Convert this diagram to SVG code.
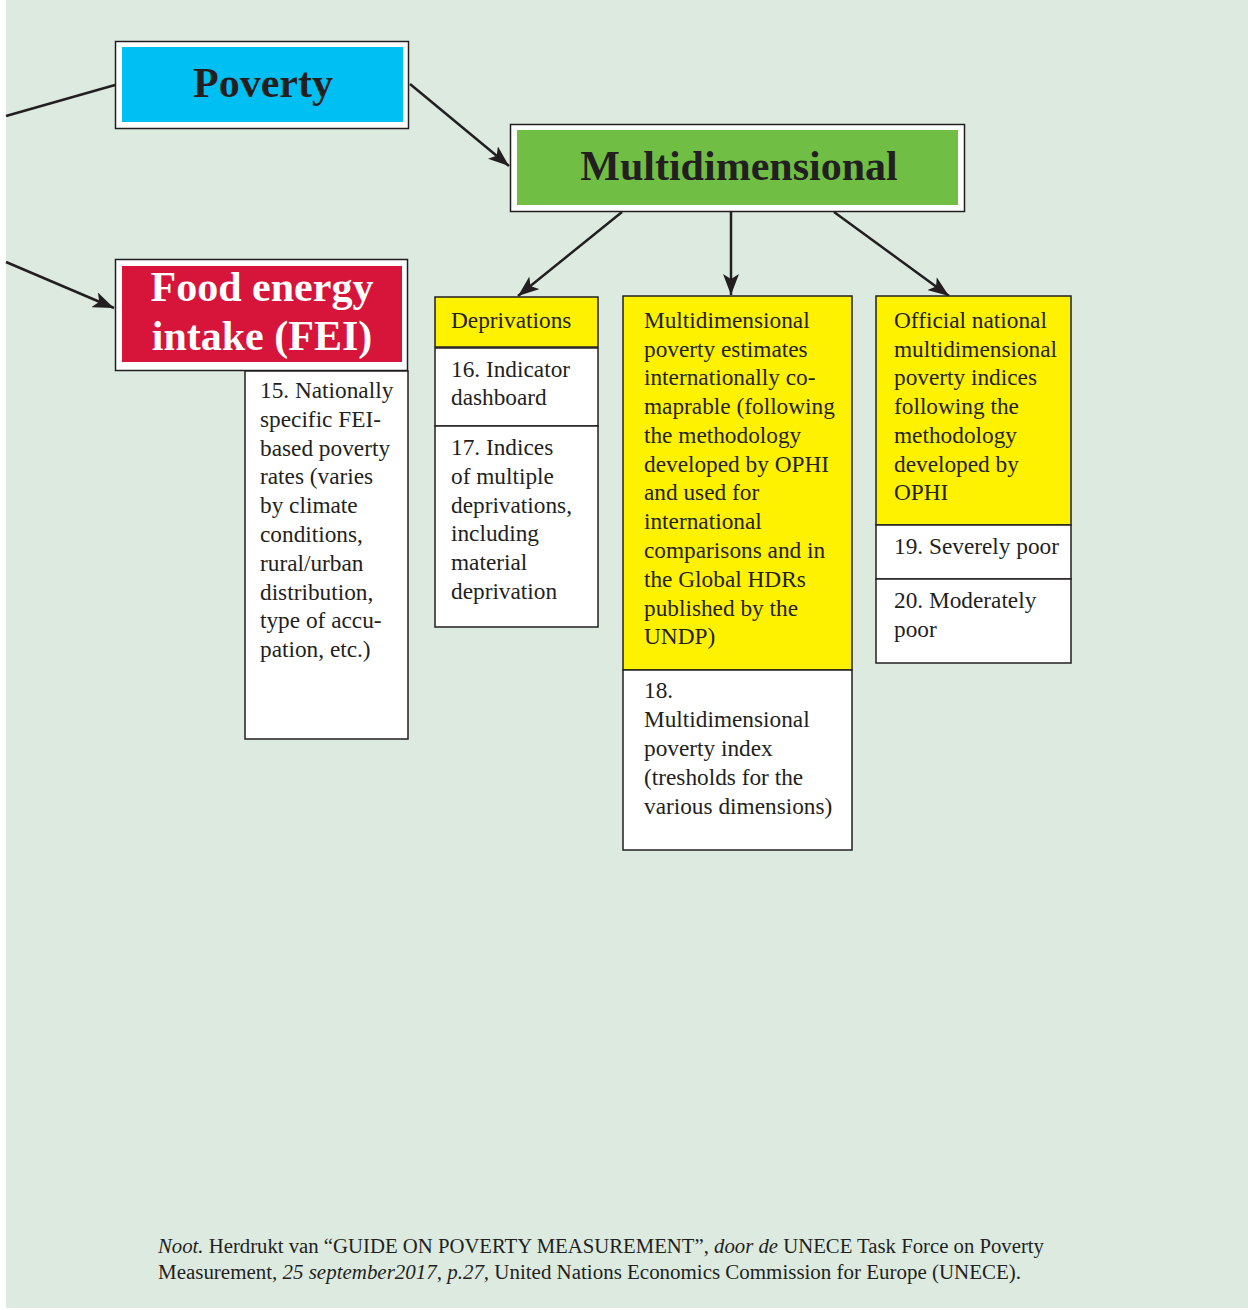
<svg xmlns="http://www.w3.org/2000/svg" width="1248" height="1310" viewBox="0 0 1248 1310">
<defs>
<marker id="ah" markerUnits="userSpaceOnUse" markerWidth="22" markerHeight="16" refX="21" refY="8" orient="auto">
<path d="M0,0 L21,8 L0,16 L5,8 z" fill="#231F20"/>
</marker>
<style>
.frame{fill:#fff;stroke:#231F20;stroke-width:1.5}
.box{stroke:#231F20;stroke-width:1.5}
.title{font-family:"Liberation Serif","Times New Roman",serif;font-weight:bold;font-size:42px;text-anchor:middle}
.body{font-family:"Liberation Serif","Times New Roman",serif;font-size:23.3px;fill:#231F20}
.note{font-family:"Liberation Serif","Times New Roman",serif;font-size:20px;fill:#231F20}
.conn{stroke:#231F20;stroke-width:2.5;fill:none}
</style>
</defs>
<rect x="0" y="0" width="1248" height="1310" fill="#ffffff"/>
<rect x="6" y="0" width="1242" height="1308" fill="#DDEAE0"/>

<g id="connectors">
<line class="conn" x1="6" y1="116" x2="115" y2="85"/>
<line class="conn" x1="6" y1="262" x2="114" y2="308" marker-end="url(#ah)"/>
<line class="conn" x1="410" y1="84" x2="509" y2="166" marker-end="url(#ah)"/>
<line class="conn" x1="622" y1="212" x2="518" y2="296" marker-end="url(#ah)"/>
<line class="conn" x1="731" y1="212" x2="731" y2="295" marker-end="url(#ah)"/>
<line class="conn" x1="834" y1="212" x2="949" y2="296" marker-end="url(#ah)"/>
</g>

<g id="poverty">
<rect class="frame" x="115.5" y="41.5" width="293" height="87"/>
<rect x="122" y="47" width="281" height="75" fill="#00BFF3"/>
<text class="title" x="263" y="97" fill="#231F20">Poverty</text>
</g>

<g id="multidimensional">
<rect class="frame" x="510.5" y="124.5" width="454" height="87"/>
<rect x="517" y="130" width="441" height="75" fill="#70BF44"/>
<text class="title" x="739" y="180" fill="#231F20">Multidimensional</text>
</g>

<g id="fei">
<rect class="frame" x="115.5" y="259.5" width="292" height="111"/>
<rect x="122" y="266" width="280" height="96" fill="#D7143A"/>
<text class="title" x="262" y="301" fill="#ffffff">Food energy</text>
<text class="title" x="262" y="350" fill="#ffffff">intake (FEI)</text>
</g>

<g id="fei-detail">
<rect class="frame" x="245" y="371" width="163" height="368"/>
<text class="body" x="260" y="398">15. Nationally</text>
<text class="body" x="260" y="427">specific FEI-</text>
<text class="body" x="260" y="456">based poverty</text>
<text class="body" x="260" y="484">rates (varies</text>
<text class="body" x="260" y="513">by climate</text>
<text class="body" x="260" y="542">conditions,</text>
<text class="body" x="260" y="571">rural/urban</text>
<text class="body" x="260" y="600">distribution,</text>
<text class="body" x="260" y="628">type of accu-</text>
<text class="body" x="260" y="657">pation, etc.)</text>
</g>

<g id="deprivations">
<rect class="box" x="435" y="297" width="163" height="50" fill="#FFF200"/>
<text class="body" x="451" y="328">Deprivations</text>
</g>
<g id="indicator-dashboard">
<rect class="box" x="435" y="348" width="163" height="78" fill="#ffffff"/>
<text class="body" x="451" y="377">16. Indicator</text>
<text class="body" x="451" y="405">dashboard</text>
</g>
<g id="indices-multiple">
<rect class="box" x="435" y="426" width="163" height="201" fill="#ffffff"/>
<text class="body" x="451" y="455">17. Indices</text>
<text class="body" x="451" y="484">of multiple</text>
<text class="body" x="451" y="513">deprivations,</text>
<text class="body" x="451" y="541">including</text>
<text class="body" x="451" y="570">material</text>
<text class="body" x="451" y="599">deprivation</text>
</g>

<g id="mp-estimates">
<rect class="box" x="623" y="296" width="229" height="374" fill="#FFF200"/>
<text class="body" x="644" y="328">Multidimensional</text>
<text class="body" x="644" y="357">poverty estimates</text>
<text class="body" x="644" y="385">internationally co-</text>
<text class="body" x="644" y="414">maprable (following</text>
<text class="body" x="644" y="443">the methodology</text>
<text class="body" x="644" y="472">developed by OPHI</text>
<text class="body" x="644" y="500">and used for</text>
<text class="body" x="644" y="529">international</text>
<text class="body" x="644" y="558">comparisons and in</text>
<text class="body" x="644" y="587">the Global HDRs</text>
<text class="body" x="644" y="616">published by the</text>
<text class="body" x="644" y="644">UNDP)</text>
</g>
<g id="mpi">
<rect class="box" x="623" y="670" width="229" height="180" fill="#ffffff"/>
<text class="body" x="644" y="698">18.</text>
<text class="body" x="644" y="727">Multidimensional</text>
<text class="body" x="644" y="756">poverty index</text>
<text class="body" x="644" y="785">(tresholds for the</text>
<text class="body" x="644" y="814">various dimensions)</text>
</g>

<g id="official-national">
<rect class="box" x="876" y="296" width="195" height="229" fill="#FFF200"/>
<text class="body" x="894" y="328">Official national</text>
<text class="body" x="894" y="357">multidimensional</text>
<text class="body" x="894" y="385">poverty indices</text>
<text class="body" x="894" y="414">following the</text>
<text class="body" x="894" y="443">methodology</text>
<text class="body" x="894" y="472">developed by</text>
<text class="body" x="894" y="500">OPHI</text>
</g>
<g id="severely-poor">
<rect class="box" x="876" y="525" width="195" height="54" fill="#ffffff"/>
<text class="body" x="894" y="554">19. Severely poor</text>
</g>
<g id="moderately-poor">
<rect class="box" x="876" y="579" width="195" height="84" fill="#ffffff"/>
<text class="body" x="894" y="608">20. Moderately</text>
<text class="body" x="894" y="637">poor</text>
</g>

<g id="note">
<text class="note" x="158" y="1253" textLength="886" lengthAdjust="spacingAndGlyphs"><tspan font-style="italic">Noot.</tspan> Herdrukt van “GUIDE ON POVERTY MEASUREMENT”, <tspan font-style="italic">door de</tspan> UNECE Task Force on Poverty</text>
<text class="note" x="158" y="1279" textLength="863" lengthAdjust="spacingAndGlyphs">Measurement<tspan font-style="italic">, 25 september2017, p.27,</tspan> United Nations Economics Commission for Europe (UNECE).</text>
</g>
</svg>
